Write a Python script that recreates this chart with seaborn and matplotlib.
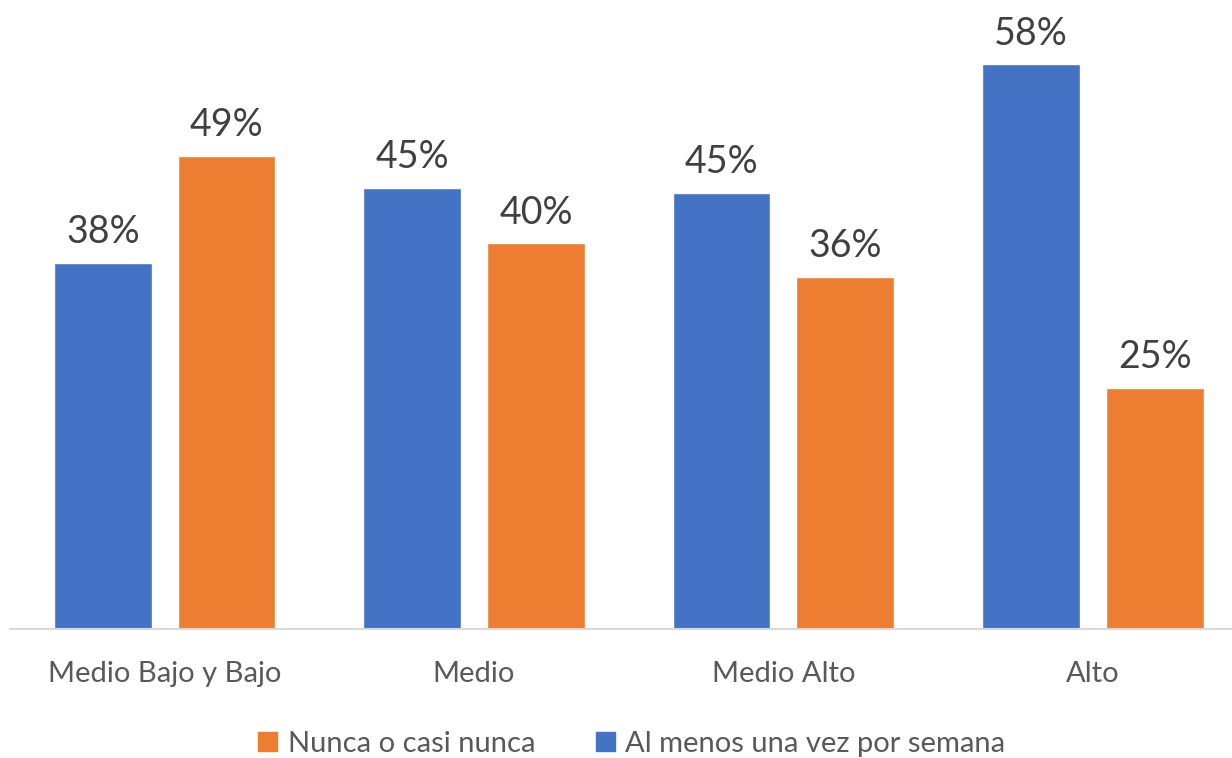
import matplotlib
matplotlib.use("Agg")
import matplotlib.pyplot as plt
import seaborn as sns
import pandas as pd

# === DATA ===
categories = ["Medio Bajo y Bajo", "Medio", "Medio Alto", "Alto"]
series_names = ["Al menos una vez por semana", "Nunca o casi nunca"]
semana_vals = [37.6, 45.3, 44.8, 58.0]
nunca_vals = [48.6, 39.6, 36.2, 24.8]
semana_labels = ["38%", "45%", "45%", "58%"]
nunca_labels = ["49%", "40%", "36%", "25%"]

BLUE = "#4472C4"
ORANGE = "#ED7D31"

df = pd.DataFrame({
    "Nivel": categories * 2,
    "Serie": [series_names[0]] * 4 + [series_names[1]] * 4,
    "Valor": semana_vals + nunca_vals,
})

sns.set_theme(style="white")
plt.rcParams["font.family"] = ["Lato", "DejaVu Sans"]

fig = plt.figure(figsize=(12.32, 7.58), dpi=100)
ax = fig.add_axes([10 / 1232, 129 / 758, 1222 / 1232, 629 / 758])

sns.barplot(data=df, x="Nivel", y="Valor", hue="Serie", order=categories,
            hue_order=series_names, palette=[BLUE, ORANGE],
            width=0.8, gap=0.21, saturation=1, ax=ax, legend=False)

# data labels
for container, labels in zip(ax.containers, [semana_labels, nunca_labels]):
    ax.bar_label(container, labels=labels, padding=9, fontsize=27, color="#404040")

ax.set_xlim(-0.5, 3.45)
ax.set_ylim(0, 64.6)
ax.set_xlabel("")
ax.set_ylabel("")
ax.set_yticks([])
ax.tick_params(axis="x", length=0, pad=23, labelsize=21, labelcolor="#595959")
for side in ["top", "right", "left"]:
    ax.spines[side].set_visible(False)
ax.spines["bottom"].set_color("#D9D9D9")
ax.spines["bottom"].set_linewidth(1.5)

# legend (orange first)
handles = [plt.Rectangle((0, 0), 1, 1, color=ORANGE),
           plt.Rectangle((0, 0), 1, 1, color=BLUE)]
fig.legend(handles, [series_names[1], series_names[0]], loc="center",
           bbox_to_anchor=(632 / 1232, 1 - 744 / 758), ncol=2, frameon=False,
           fontsize=21, labelcolor="#595959", handlelength=0.65, handleheight=0.65,
           handletextpad=0.35, columnspacing=2.1)

fig.savefig("out.png", dpi=100)
